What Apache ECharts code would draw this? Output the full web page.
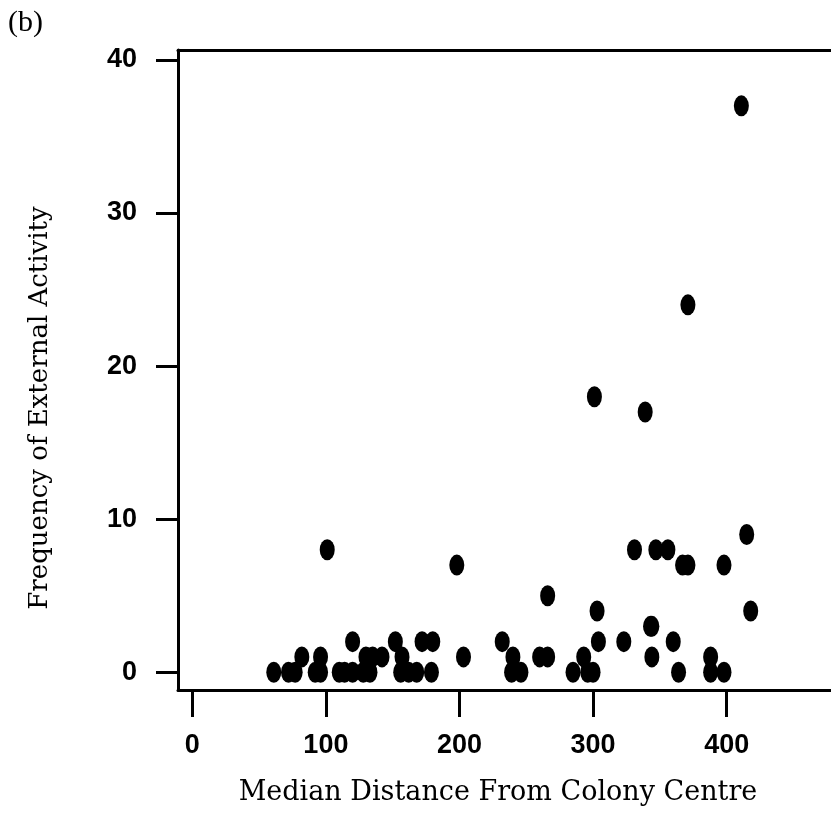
<!DOCTYPE html>
<html>
<head>
<meta charset="utf-8">
<script src="https://cdn.jsdelivr.net/npm/echarts@6/dist/echarts.min.js"></script>
<style>
  html, body { margin: 0; padding: 0; background: #fff; }
  #chart { width: 831px; height: 814px; }
</style>
</head>
<body>
<div id="chart"></div>
<script>
// Median distance from colony centre (x) and frequency of external activity (y), one entry per individual
const distance = [
  61, 72, 77, 92, 96, 110, 114, 120, 128, 133, 156, 162, 168, 179, 239, 246, 285, 296, 300, 364, 388, 398,
  82, 96, 130, 135, 142, 157, 203, 240, 260, 266, 293, 344, 388,
  120, 152, 172, 180, 232, 304, 323, 360,
  343, 344,
  303, 418,
  266,
  198, 367, 371, 398,
  101, 331, 347, 356,
  415,
  339,
  301,
  371,
  411
];
const frequency = [
  0, 0, 0, 0, 0, 0, 0, 0, 0, 0, 0, 0, 0, 0, 0, 0, 0, 0, 0, 0, 0, 0,
  1, 1, 1, 1, 1, 1, 1, 1, 1, 1, 1, 1, 1,
  2, 2, 2, 2, 2, 2, 2, 2,
  3, 3,
  4, 4,
  5,
  7, 7, 7, 7,
  8, 8, 8, 8,
  9,
  17,
  18,
  24,
  37
];
const xTicks = [0, 100, 200, 300, 400];
const yTicks = [0, 10, 20, 30, 40];

const points = distance.map((d, i) => [d, frequency[i]]);

const tickFont = '"Liberation Sans Narrow", "Liberation Sans", Arial, sans-serif';
const titleFont = '"DejaVu Serif", "Liberation Serif", serif';

const chart = echarts.init(document.getElementById('chart'), null, { renderer: 'canvas' });

// heavy black frame lines, kept on the box edges rather than at zero
const frame = { show: true, onZero: false, lineStyle: { color: '#000', width: 3 } };

chart.setOption({
  animation: false,
  backgroundColor: '#fff',
  grid: { left: 178, top: 50, right: 0, bottom: 124, containLabel: false },
  xAxis: [
    {
      type: 'value',
      min: -10.7,
      max: 478.1,
      position: 'bottom',
      axisLine: frame,
      splitLine: { show: false },
      axisTick: {
        show: true,
        customValues: xTicks,
        length: 27,
        lineStyle: { color: '#000', width: 3 }
      },
      axisLabel: {
        customValues: xTicks,
        margin: 42,
        color: '#000',
        fontFamily: tickFont,
        fontWeight: 'bold',
        fontSize: 27
      }
    },
    {
      // upper edge of the plotting box
      type: 'value',
      min: -10.7,
      max: 478.1,
      position: 'top',
      axisLine: frame,
      axisTick: { show: false },
      axisLabel: { show: false },
      splitLine: { show: false }
    }
  ],
  yAxis: {
    type: 'value',
    min: -1.16,
    max: 40.65,
    axisLine: frame,
    splitLine: { show: false },
    axisTick: {
      show: true,
      customValues: yTicks,
      length: 22,
      lineStyle: { color: '#000', width: 3 }
    },
    axisLabel: {
      customValues: yTicks,
      margin: 41,
      color: '#000',
      fontFamily: tickFont,
      fontWeight: 'bold',
      fontSize: 27
    }
  },
  graphic: [
    {
      type: 'text',
      left: 8,
      top: 8,
      style: { text: '(b)', font: '30px "Liberation Serif", "Times New Roman", serif', fill: '#000' }
    },
    {
      type: 'text',
      x: 498,
      y: 793,
      style: {
        text: 'Median Distance From Colony Centre',
        font: '27px ' + titleFont,
        fill: '#000',
        align: 'center',
        verticalAlign: 'middle'
      }
    },
    {
      type: 'text',
      x: 40,
      y: 408,
      rotation: Math.PI / 2,
      style: {
        text: 'Frequency of External Activity',
        font: '26px ' + titleFont,
        fill: '#000',
        align: 'center',
        verticalAlign: 'middle'
      }
    }
  ],
  series: [
    {
      type: 'scatter',
      xAxisIndex: 0,
      data: points,
      symbol: 'circle',
      symbolSize: [15, 21],
      itemStyle: { color: '#000', opacity: 1 }
    }
  ]
});
</script>
</body>
</html>
